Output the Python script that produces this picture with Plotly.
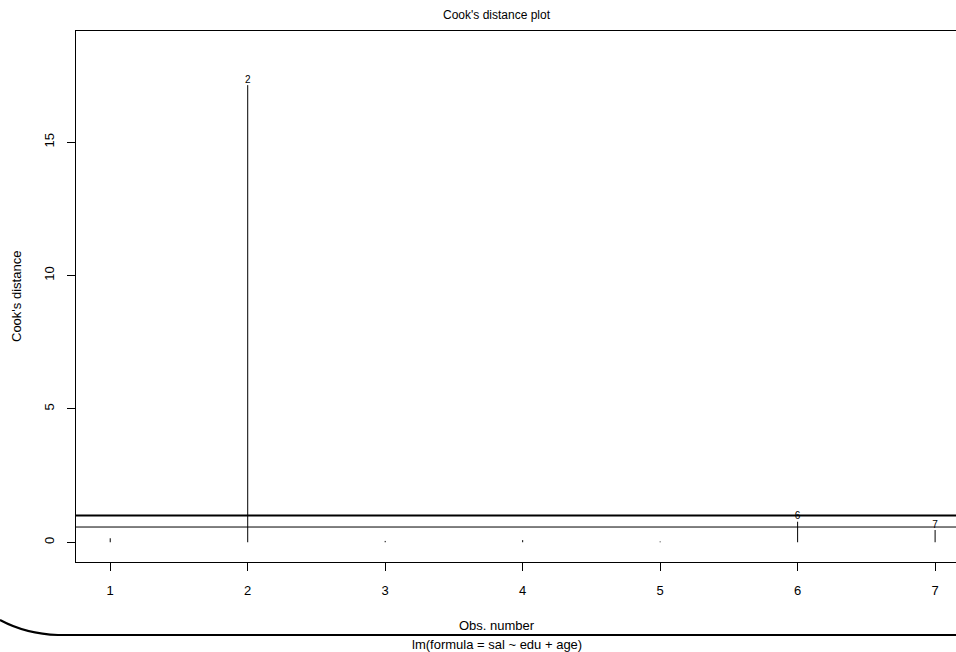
import plotly.graph_objects as go

# Cook's distance for each observation of lm(sal ~ edu + age)
obs = [1, 2, 3, 4, 5, 6, 7]
cooks_d = [0.15, 17.14, 0.05, 0.08, 0.03, 0.77, 0.46]
labelled_obs = [2, 6, 7]
x_ticks = [1, 2, 3, 4, 5, 6, 7]
y_ticks = [0, 5, 10, 15]
cutoff_unit = 1.0
cutoff_4n = 4 / len(obs)

W, H = 956, 652
L, R, T, B = 76, 0, 31, 90
FONT = "Liberation Sans, Arial, Helvetica, sans-serif"


def px_to_paper(px, py):
    return (px - L) / (W - L - R), (H - B - py) / (H - T - B)


# vertical "histogram" stems from zero to each distance
stem_x, stem_y = [], []
for xi, yi in zip(obs, cooks_d):
    stem_x += [xi, xi, None]
    stem_y += [0, yi, None]

fig = go.Figure()
fig.add_trace(go.Scatter(x=stem_x, y=stem_y, mode="lines",
                         line=dict(color="black", width=1),
                         hoverinfo="skip", showlegend=False))

lab_x = [o for o in labelled_obs]
lab_y = [cooks_d[obs.index(o)] for o in labelled_obs]
fig.add_trace(go.Scatter(x=lab_x, y=lab_y, mode="text",
                         text=[str(o) for o in labelled_obs],
                         textposition="top center",
                         textfont=dict(family=FONT, size=10, color="black"),
                         showlegend=False))

# reference cut-offs
fig.add_shape(type="line", xref="paper", yref="y", x0=0, x1=1,
              y0=cutoff_unit, y1=cutoff_unit, line=dict(color="black", width=2))
fig.add_shape(type="line", xref="paper", yref="y", x0=0, x1=1,
              y0=cutoff_4n, y1=cutoff_4n, line=dict(color="black", width=1))

# rounded rule under the axis title
p0 = px_to_paper(0, 620)
pc = px_to_paper(26, 634)
p1 = px_to_paper(58, 635)
p2 = px_to_paper(960, 635)
path = (f"M {p0[0]},{p0[1]} Q {pc[0]},{pc[1]} {p1[0]},{p1[1]} "
        f"L {p2[0]},{p2[1]}")
fig.add_shape(type="path", xref="paper", yref="paper", path=path,
              line=dict(color="black", width=2))


def add_text(text, px, py, size, angle=0):
    ax, ay = px_to_paper(px, py)
    fig.add_annotation(text=text, x=ax, y=ay, xref="paper", yref="paper",
                       showarrow=False, textangle=angle,
                       xanchor="center", yanchor="middle",
                       font=dict(family=FONT, size=size, color="black"))


add_text("Cook's distance plot", 497, 15, 12)
add_text("Obs. number", 497, 625, 13)
add_text("lm(formula = sal ~ edu + age)", 497, 644, 13)
add_text("Cook's distance", 16, 297, 13, angle=-90)

fig.update_layout(
    width=W, height=H,
    margin=dict(l=L, r=R, t=T, b=B),
    paper_bgcolor="white", plot_bgcolor="white",
    showlegend=False,
    xaxis=dict(range=[0.751, 7.152], tickvals=x_ticks,
               ticktext=[str(v) for v in x_ticks],
               showgrid=False, zeroline=False,
               showline=True, linecolor="black", linewidth=1, mirror=True,
               ticks="outside", ticklen=8, tickcolor="black", tickwidth=1,
               ticklabelstandoff=8,
               tickfont=dict(family=FONT, size=13, color="black")),
    yaxis=dict(range=[-0.74, 19.17], tickvals=y_ticks,
               ticktext=[str(v) for v in y_ticks],
               showgrid=False, zeroline=False,
               showline=True, linecolor="black", linewidth=1, mirror=False,
               ticks="outside", ticklen=8, tickcolor="black", tickwidth=1,
               tickangle=-90, ticklabelstandoff=8,
               tickfont=dict(family=FONT, size=13, color="black")),
)

fig.write_html("out.html")
